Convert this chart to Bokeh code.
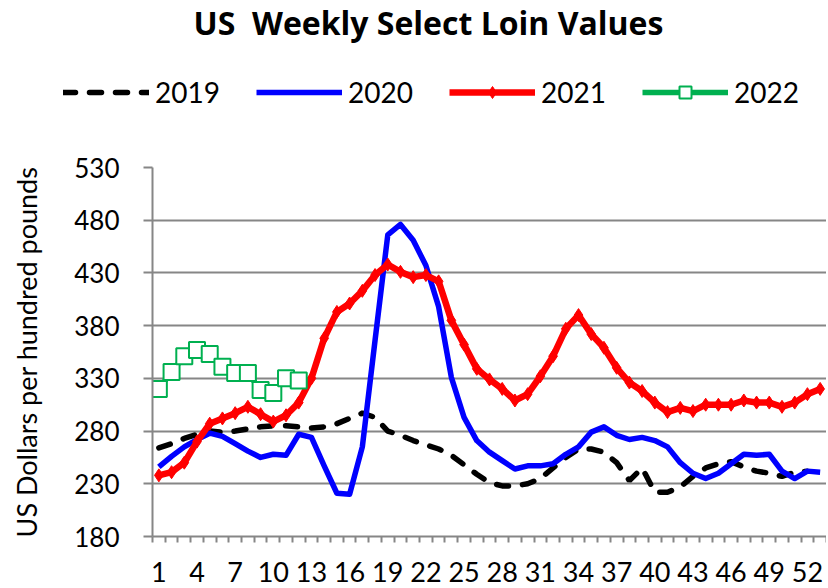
from bokeh.plotting import figure
from bokeh.layouts import column
from bokeh.models import Range1d, FixedTicker, Legend, LegendItem, Label
from bokeh.embed import file_html
from bokeh.resources import INLINE

# ---- data ----
weeks_2019 = list(range(1, 53))
values_2019 = [264, 268, 273, 277, 280, 279, 280, 282, 284, 285, 285, 284, 283, 284, 287, 292,
               297, 293, 280, 276, 271, 267, 263, 257, 248, 239, 231, 228, 228, 230, 235, 245,
               255, 263, 263, 260, 250, 233, 245, 222, 222, 227, 237, 245, 249, 251, 246, 242,
               240, 237, 241, 242]
weeks_2020 = list(range(1, 54))
values_2020 = [246, 256, 265, 272, 278, 275, 268, 261, 255, 258, 257, 277, 274, 247, 221, 220,
               265, 366, 466, 476, 461, 437, 398, 331, 293, 271, 260, 252, 244, 247, 247, 249,
               258, 265, 279, 284, 276, 272, 274, 271, 265, 250, 240, 235, 240, 249, 258, 257,
               258, 242, 235, 242, 241]
weeks_2021 = list(range(1, 54))
values_2021 = [238, 241, 250, 270, 287, 292, 297, 303, 296, 289, 295, 307, 330, 368, 393, 401,
               413, 428, 438, 431, 426, 428, 422, 385, 362, 339, 329, 320, 309, 315, 332, 351,
               377, 390, 372, 359, 340, 326, 318, 307, 298, 302, 299, 305, 305, 305, 309, 307,
               307, 303, 307, 315, 320]
weeks_2022 = list(range(1, 13))
values_2022 = [320, 336, 351, 357, 353, 341, 335, 335, 319, 316, 330, 328]

x_tick_weeks = list(range(1, 53, 3))
y_ticks = [180, 230, 280, 330, 380, 430, 480, 530]
series_labels = ["2019", "2020", "2021", "2022"]
title_text = "US\u00a0 Weekly Select Loin Values"
y_label = "US Dollars per hundred pounds"

GRAY = "#868686"
FONT = "Lato"
W = 826
TOP_H = 138
MAIN_H = 586 - TOP_H

STY19 = dict(line_color="black", line_width=5.5, line_dash="12 14", line_cap="round")
STY20 = dict(line_color="#0000ff", line_width=5.5, line_join="round")
STY21 = dict(line_color="#ff0000", line_width=6.5, line_join="round")
STY21M = dict(marker="diamond", size=13, fill_color="#ff0000", line_color="#ff0000")
STY22 = dict(line_color="#00b050", line_width=5.5)
STY22M = dict(marker="square", size=16, fill_color="white", line_color="#00b050", line_width=2)

# ---------------- main plot ----------------
p = figure(width=W, height=MAIN_H, output_backend="svg", toolbar_location=None,
           x_range=Range1d(0.5, 53.5), y_range=Range1d(180, 530),
           min_border_left=152, min_border_right=0, min_border_top=167 - TOP_H,
           min_border_bottom=50)
p.frame_align = False
p.outline_line_color = None
p.background_fill_color = "white"
p.border_fill_color = "white"

p.xgrid.grid_line_color = None
p.ygrid.ticker = FixedTicker(ticks=y_ticks)
p.ygrid.grid_line_color = GRAY
p.ygrid.grid_line_width = 2

p.yaxis.ticker = FixedTicker(ticks=y_ticks)
p.yaxis.axis_line_color = GRAY
p.yaxis.axis_line_width = 2
p.yaxis.major_tick_line_color = GRAY
p.yaxis.major_tick_line_width = 2
p.yaxis.major_tick_out = 9
p.yaxis.major_tick_in = 0
p.yaxis.minor_tick_line_color = None
p.yaxis.major_label_text_font = FONT
p.yaxis.major_label_text_font_size = "26px"
p.yaxis.major_label_text_color = "black"
p.yaxis.major_label_standoff = 24
p.yaxis.axis_label = y_label
p.yaxis.axis_label_text_font = FONT
p.yaxis.axis_label_text_font_style = "normal"
p.yaxis.axis_label_text_font_size = "27px"
p.yaxis.axis_label_text_color = "black"
p.yaxis.axis_label_standoff = 28

p.xaxis.ticker = FixedTicker(ticks=x_tick_weeks, minor_ticks=[w - 0.5 for w in range(1, 55)])
p.xaxis.axis_line_color = GRAY
p.xaxis.axis_line_width = 2
p.xaxis.major_tick_line_color = None
p.xaxis.major_tick_out = 0
p.xaxis.major_tick_in = 0
p.xaxis.minor_tick_line_color = GRAY
p.xaxis.minor_tick_line_width = 2
p.xaxis.minor_tick_out = 6
p.xaxis.minor_tick_in = 0
p.xaxis.major_label_text_font = FONT
p.xaxis.major_label_text_font_size = "27px"
p.xaxis.major_label_text_color = "black"
p.xaxis.major_label_standoff = 19

p.line(weeks_2019, values_2019, **STY19)
p.line(weeks_2020, values_2020, **STY20)
p.line(weeks_2021, values_2021, **STY21)
p.scatter(weeks_2021, values_2021, **STY21M)
p.line(weeks_2022, values_2022, **STY22)
p.scatter(weeks_2022, values_2022, **STY22M)

# ---------------- header (title + legend) ----------------
top = figure(width=W, height=TOP_H, output_backend="svg", toolbar_location=None,
             x_range=Range1d(0, W), y_range=Range1d(0, TOP_H),
             x_axis_type=None, y_axis_type=None, min_border=0)
top.frame_align = False
top.outline_line_color = None
top.grid.visible = False
top.background_fill_color = "white"
top.border_fill_color = "white"

# legend-only renderers (no visible data; they only supply the legend samples)
nan = [float("nan")]
l19 = top.line(nan, nan, **STY19)
l20 = top.line(nan, nan, **STY20)
l21 = top.line(nan, nan, **STY21)
m21 = top.scatter(nan, nan, **STY21M)
l22 = top.line(nan, nan, **STY22)
m22 = top.scatter(nan, nan, **STY22M)

legend = Legend(items=[
    LegendItem(label=series_labels[0], renderers=[l19]),
    LegendItem(label=series_labels[1], renderers=[l20]),
    LegendItem(label=series_labels[2], renderers=[l21, m21]),
    LegendItem(label=series_labels[3], renderers=[l22, m22]),
], orientation="horizontal", location=(63, TOP_H - 109),
    label_text_font=FONT, label_text_font_size="28px", label_text_color="black",
    glyph_width=86, glyph_height=30, label_height=30, label_standoff=6, spacing=36,
    padding=0, margin=0, border_line_color=None, background_fill_alpha=0)
top.add_layout(legend, "center")

title = Label(x=193, y=TOP_H - 22, x_units="screen", y_units="screen", text=title_text,
              text_font="Open Sans", text_font_size="32px", text_font_style="bold",
              text_align="left", text_baseline="alphabetic", text_color="black")
top.add_layout(title)

layout = column(top, p, spacing=0)

with open("out.html", "w") as f:
    f.write(file_html(layout, INLINE))
